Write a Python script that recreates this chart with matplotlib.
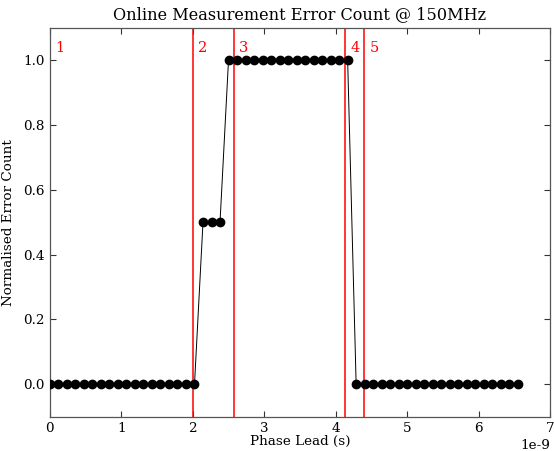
import numpy as np
import matplotlib
matplotlib.use("Agg")
import matplotlib.pyplot as plt

plt.rcParams['font.family'] = ['DejaVu Serif']
plt.rcParams['axes.unicode_minus'] = False

# phase steps across one 150MHz period (56 taps)
period = 1.0 / 150e6
n_steps = 56
error_count = [0.0] * 18 + [0.5] * 3 + [1.0] * 15 + [0.0] * 20
boundaries = [0.0, 2.0e-9, 2.58e-9, 4.13e-9, 4.40e-9]
region_labels = ["1", "2", "3", "4", "5"]

phase = np.arange(n_steps) * period / n_steps

fig = plt.figure(figsize=(5.54, 4.51), dpi=100)
ax = fig.add_axes([0.090, 0.076, 0.903, 0.863])

ax.plot(phase, error_count, color="black", linewidth=0.7, marker="o",
        markersize=6, markeredgecolor="black", zorder=3)

for idx, b in enumerate(boundaries):
    if idx > 0:
        ax.axvline(b, color="red", linewidth=1.1, zorder=2)
    ax.text(b + 0.07e-9, 1.023, region_labels[idx], color="red",
            fontsize=10.5, va="baseline", ha="left")

ax.set_xlim(0, 7e-9)
ax.set_ylim(-0.1, 1.1)
ax.set_title("Online Measurement Error Count @ 150MHz", fontsize=11.6)
ax.set_xlabel("Phase Lead (s)", fontsize=9.7, labelpad=0)
ax.set_ylabel("Normalised Error Count", fontsize=9.7, labelpad=6)

ax.tick_params(direction="in", top=True, right=True, length=4,
               labelsize=9.7, color="#333333")
ax.xaxis.get_offset_text().set_fontsize(9.7)
for s in ax.spines.values():
    s.set_color("#555555")
    s.set_linewidth(0.9)

fig.savefig("out.png", dpi=100)
